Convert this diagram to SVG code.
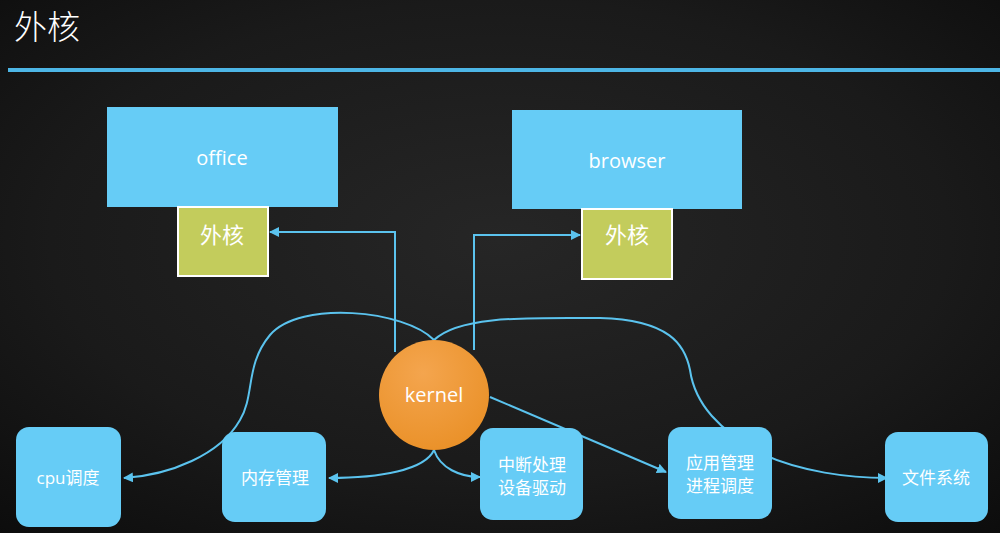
<svg xmlns="http://www.w3.org/2000/svg" width="1000" height="533" viewBox="0 0 1000 533">
<defs>
<radialGradient id="bg" cx="0.5" cy="0.45" r="0.75">
<stop offset="0" stop-color="#262626"/>
<stop offset="0.6" stop-color="#1a1a1a"/>
<stop offset="1" stop-color="#0c0c0c"/>
</radialGradient>
<radialGradient id="orb" cx="0.4" cy="0.3" r="0.8">
<stop offset="0" stop-color="#F4A54E"/>
<stop offset="1" stop-color="#E98F25"/>
</radialGradient>
<marker id="arr" viewBox="0 0 10 10" refX="9" refY="5" markerWidth="5" markerHeight="5" orient="auto">
<path d="M0,0 L10,5 L0,10 z" fill="#5BC3EE"/>
</marker>
<style>
.app{fill:#66CCF6;}
.ext{fill:#C3CC5C;stroke:#ffffff;stroke-width:2;}
.mod{fill:#66CCF6;}
.lbl{fill:#ffffff;font-family:"Open Sans","Noto Sans","Noto Sans CJK SC",sans-serif;text-anchor:middle;}
.cjk{fill:#ffffff;font-family:"Noto Sans CJK SC",sans-serif;text-anchor:middle;}
.con{fill:none;stroke:#5BC3EE;stroke-width:2;}
</style>
</defs>
<rect x="0" y="0" width="1000" height="533" fill="url(#bg)"/>
<text x="14" y="39" font-size="33" style="fill:#ffffff;font-family:'Noto Sans CJK SC',sans-serif;font-weight:300">外核</text>
<path d="M8,70 L1000,70" stroke="#4DB6E6" stroke-width="4"/>

<g id="connectors">
<path class="con" d="M395,352 L395,232 L270,232" marker-end="url(#arr)"/>
<path class="con" d="M474,350 L474,235 L580,235" marker-end="url(#arr)"/>
<path class="con" d="M434,340 C405,310 300,300 270,335 C245,365 255,395 240,420 C220,455 170,475 124,478" marker-end="url(#arr)"/>
<path class="con" d="M434,340 C460,315 530,318 600,318 C670,320 685,345 690,370 C695,405 720,430 760,453 C800,472 850,478 887,478" marker-end="url(#arr)"/>
<path class="con" d="M490,397 L666,472" marker-end="url(#arr)"/>
<path class="con" d="M434,450 C425,470 380,478 329,478" marker-end="url(#arr)"/>
<path class="con" d="M434,450 C440,468 460,477 480,477" marker-end="url(#arr)"/>
</g>

<g id="office">
<rect class="app" x="107" y="107" width="231" height="100"/>
<text class="lbl" x="222" y="165" font-size="20">office</text>
</g>
<g id="office-exokernel">
<rect class="ext" x="178" y="207" width="90" height="69"/>
<text class="cjk" x="222" y="243" font-size="22">外核</text>
</g>
<g id="browser">
<rect class="app" x="512" y="110" width="230" height="99"/>
<text class="lbl" x="627" y="168" font-size="20">browser</text>
</g>
<g id="browser-exokernel">
<rect class="ext" x="582" y="209" width="90" height="70"/>
<text class="cjk" x="627" y="243" font-size="22">外核</text>
</g>
<g id="kernel">
<circle cx="434" cy="395" r="55" fill="url(#orb)"/>
<text class="lbl" x="434" y="402" font-size="20">kernel</text>
</g>
<g id="cpu">
<rect class="mod" x="16" y="427" width="105" height="100" rx="13"/>
<text class="lbl" x="68" y="484" font-size="17">cpu调度</text>
</g>
<g id="memory">
<rect class="mod" x="222" y="432" width="104" height="90" rx="13"/>
<text class="cjk" x="275" y="484" font-size="17">内存管理</text>
</g>
<g id="interrupt">
<rect class="mod" x="480" y="428" width="103" height="92" rx="13"/>
<text class="cjk" x="532" y="471" font-size="17">中断处理</text>
<text class="cjk" x="532" y="494" font-size="17">设备驱动</text>
</g>
<g id="app-mgmt">
<rect class="mod" x="668" y="427" width="104" height="92" rx="13"/>
<text class="cjk" x="720" y="469" font-size="17">应用管理</text>
<text class="cjk" x="720" y="492" font-size="17">进程调度</text>
</g>
<g id="fs">
<rect class="mod" x="885" y="432" width="103" height="90" rx="13"/>
<text class="cjk" x="936" y="484" font-size="17">文件系统</text>
</g>
</svg>
